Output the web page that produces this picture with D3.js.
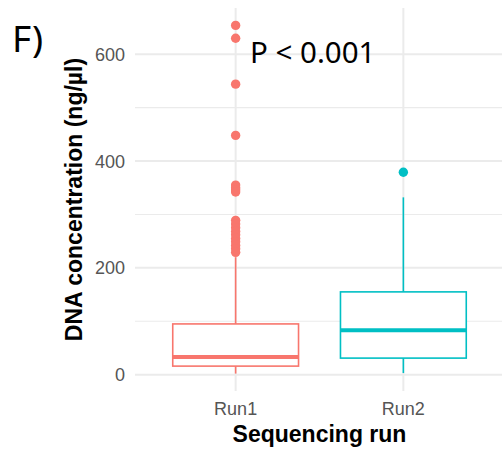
<!DOCTYPE html>
<html>
<head>
<meta charset="utf-8">
<script src="https://cdn.jsdelivr.net/npm/d3@7"></script>
<style>
  body { margin: 0; background: white; }
</style>
</head>
<body>
<script>
//Width and height
var w = 502;
var h = 449;

// data
var runs = ["Run1", "Run2"];
var colors = ["#F8766D", "#00BFC4"];
var whiskerLow = [2, 3];
var q1 = [16, 31];
var median = [33, 83];
var q3 = [95, 155];
var whiskerHigh = [220, 332];
var outliersRun1 = [654, 630, 544, 448, 355, 350, 346, 342, 289, 282, 275, 268, 262, 255, 249, 242, 236, 229];
var outliersRun2 = [379];
var yTicks = [0, 200, 400, 600];
var yMinor = [100, 300, 500];

var boxes = runs.map(function(r, i) {
  return { run: r, color: colors[i], lo: whiskerLow[i], q1: q1[i], med: median[i], q3: q3[i], hi: whiskerHigh[i] };
});
var points = outliersRun1.map(function(v) { return { run: "Run1", v: v, color: colors[0] }; })
  .concat(outliersRun2.map(function(v) { return { run: "Run2", v: v, color: colors[1] }; }));

// panel
var pLeft = 135, pRight = 504, pTop = 8, pBottom = 391;

var svg = d3.select("body")
            .append("svg")
            .attr("width", w)
            .attr("height", h)
            .style("font-family", "'Liberation Sans', Arial, sans-serif");

// ggplot style 5% expansion
var allVals = whiskerLow.concat(whiskerHigh, outliersRun1, outliersRun2);
var lo = d3.min(allVals), hi = d3.max(allVals);
var pad = (hi - lo) * 0.05;
var y = d3.scaleLinear().domain([lo - pad, hi + pad]).range([pBottom, pTop]);
var x = d3.scalePoint().domain(runs).range([pLeft, pRight]).padding(0.6);
var bw = x.step() * 0.75;

// grid
svg.selectAll("line.minor")
   .data(yMinor)
   .enter()
   .append("line")
   .attr("x1", pLeft).attr("x2", pRight)
   .attr("y1", d => y(d)).attr("y2", d => y(d))
   .attr("stroke", "#EBEBEB")
   .attr("stroke-width", 1.1);

svg.selectAll("line.major")
   .data(yTicks)
   .enter()
   .append("line")
   .attr("x1", pLeft).attr("x2", pRight)
   .attr("y1", d => y(d)).attr("y2", d => y(d))
   .attr("stroke", "#EBEBEB")
   .attr("stroke-width", 2);

svg.selectAll("line.vmajor")
   .data(runs)
   .enter()
   .append("line")
   .attr("x1", d => x(d)).attr("x2", d => x(d))
   .attr("y1", pTop).attr("y2", pBottom)
   .attr("stroke", "#EBEBEB")
   .attr("stroke-width", 2);

// boxes
var g = svg.selectAll("g.box")
   .data(boxes)
   .enter()
   .append("g");

g.append("line")
 .attr("x1", d => x(d.run)).attr("x2", d => x(d.run))
 .attr("y1", d => y(d.q3)).attr("y2", d => y(d.hi))
 .attr("stroke", d => d.color).attr("stroke-width", 1.6);

g.append("line")
 .attr("x1", d => x(d.run)).attr("x2", d => x(d.run))
 .attr("y1", d => y(d.q1)).attr("y2", d => y(d.lo))
 .attr("stroke", d => d.color).attr("stroke-width", 1.6);

g.append("rect")
 .attr("x", d => x(d.run) - bw / 2)
 .attr("width", bw)
 .attr("y", d => y(d.q3))
 .attr("height", d => y(d.q1) - y(d.q3))
 .attr("fill", "white")
 .attr("stroke", d => d.color)
 .attr("stroke-width", 1.6);

g.append("line")
 .attr("x1", d => x(d.run) - bw / 2).attr("x2", d => x(d.run) + bw / 2)
 .attr("y1", d => y(d.med)).attr("y2", d => y(d.med))
 .attr("stroke", d => d.color).attr("stroke-width", 4);

// outliers
svg.selectAll("circle")
   .data(points)
   .enter()
   .append("circle")
   .attr("cx", d => x(d.run))
   .attr("cy", d => y(d.v))
   .attr("r", 4.7)
   .attr("fill", d => d.color);

// axis labels
svg.selectAll("text.ytick")
   .data(yTicks)
   .enter()
   .append("text")
   .text(d => d)
   .attr("x", 125)
   .attr("y", d => y(d))
   .attr("dy", "0.36em")
   .attr("text-anchor", "end")
   .attr("font-size", "18px")
   .attr("fill", "#555");

svg.selectAll("text.xtick")
   .data(runs)
   .enter()
   .append("text")
   .text(d => d)
   .attr("x", d => x(d))
   .attr("y", 415)
   .attr("text-anchor", "middle")
   .attr("font-size", "18px")
   .attr("fill", "#555");

svg.append("text")
   .text("Sequencing run")
   .attr("x", (pLeft + pRight) / 2)
   .attr("y", 442)
   .attr("text-anchor", "middle")
   .attr("font-size", "23px")
   .attr("font-weight", "bold");

svg.append("text")
   .text("DNA concentration (ng/µl)")
   .attr("transform", "translate(82," + (pTop + pBottom) / 2 + ") rotate(-90)")
   .attr("text-anchor", "middle")
   .attr("font-size", "23px")
   .attr("font-weight", "bold");

// annotations
svg.append("text")
   .text("F)")
   .attr("x", 12)
   .attr("y", 52)
   .attr("font-family", "'Noto Sans', sans-serif")
   .attr("font-size", "37px");

svg.append("text")
   .text("P < 0.001")
   .attr("x", 250)
   .attr("y", 63)
   .attr("font-family", "'Noto Sans', sans-serif")
   .attr("font-size", "29.5px");
</script>
</body>
</html>
